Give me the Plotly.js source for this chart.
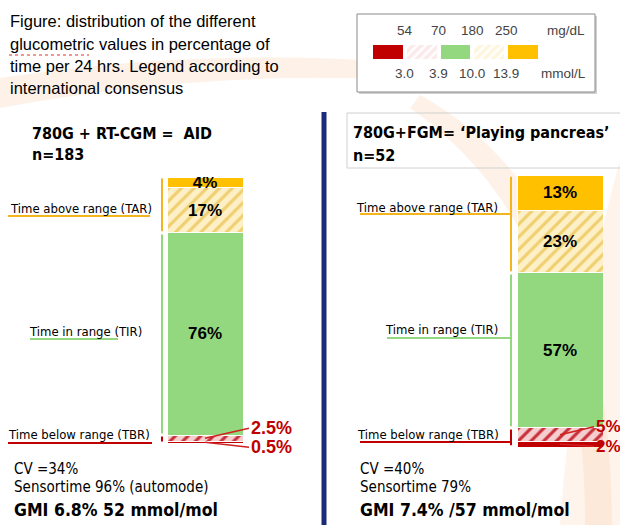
<!DOCTYPE html>
<html>
<head>
<meta charset="utf-8">
<script src="https://cdn.plot.ly/plotly-3.0.1.min.js"></script>
<style>html,body{margin:0;padding:0;background:#fff;}#chart{width:620px;height:525px;}</style>
</head>
<body>
<div id="chart"></div>
<script>
// ---------------- data ----------------
const categories = ["TBR <54", "TBR 54-70", "TIR 70-180", "TAR 180-250", "TAR >250"];
const aidValues = [0.5, 2.5, 76, 17, 4];        // 780G + RT-CGM (n=183)
const fgmValues = [2, 5, 57, 23, 13];           // 780G + FGM (n=52)
const groupNames = ["780G + RT-CGM", "780G+FGM"];
const mgdlTicks = ["54", "70", "180", "250"];
const mmolTicks = ["3.0", "3.9", "10.0", "13.9"];
const legendPatch = [1, 1, 1, 1, 1];

// ---------------- styles ----------------
const segColor = ["#c00000", "#f5cfcf", "#93d87f", "#fdf0c6", "#ffc000"];
const segShape = ["", "/", "", "/", ""];
const segFg = ["#c00000", "#c8303a", "#93d87f", "#f0cf70", "#ffc000"];
const keyBg = ["#c00000", "#fbeaea", "#93d87f", "#fdf5dc", "#ffc000"];
const keyFg = ["#c00000", "#c8102e", "#93d87f", "#ebb830", "#ffc000"];
const W = 620, H = 525;
const px = x => x / W;
const py = y => 1 - y / H;

const traces = [];
const sum = a => a.reduce((s, v) => s + v, 0);
function cum(arr, i) { return sum(arr.slice(0, i)); }

[[aidValues, 'x', 'y', groupNames[0]], [fgmValues, 'x2', 'y2', groupNames[1]]].forEach(([vals, xa, ya, g]) => {
  categories.forEach((c, i) => {
    traces.push({
      type: 'bar', name: c, x: [g], y: [vals[i]], xaxis: xa, yaxis: ya,
      marker: {
        color: segColor[i],
        pattern: {shape: segShape[i], fgcolor: segFg[i], bgcolor: segColor[i], size: 9, solidity: 0.35},
        line: {color: '#ffffff', width: 1}
      },
      text: [i >= 2 ? vals[i] + '%' : ''],
      textposition: 'inside', insidetextanchor: 'middle', textangle: 0, constraintext: 'none',
      textfont: {family: 'Liberation Sans, Arial, sans-serif', size: 17, color: '#000', weight: 'bold'},
      hoverinfo: 'skip', showlegend: false
    });
  });
});

// colour key as a tiny bar strip
traces.push({
  type: 'bar', x: categories, y: legendPatch, xaxis: 'x3', yaxis: 'y3', width: 0.88,
  marker: {
    color: keyBg,
    pattern: {shape: segShape, fgcolor: keyFg, bgcolor: keyBg, size: 6, solidity: 0.6},
    line: {color: 'rgba(0,0,0,0)', width: 0}
  },
  hoverinfo: 'skip', showlegend: false
});

const hidden = {visible: false, fixedrange: true};
const shapes = [];
const annotations = [];

// background swooshes
const peach = 'rgba(250,205,170,0.28)';
shapes.push({type: 'path', xref: 'paper', yref: 'paper', layer: 'below', line: {width: 0}, fillcolor: peach,
  path: `M ${px(0)},${py(78)} Q ${px(250)},${py(40)} ${px(480)},${py(72)} L ${px(480)},${py(86)} Q ${px(250)},${py(62)} ${px(0)},${py(108)} Z`});
shapes.push({type: 'path', xref: 'paper', yref: 'paper', layer: 'below', line: {width: 0}, fillcolor: peach,
  path: `M ${px(420)},${py(95)} Q ${px(610)},${py(200)} ${px(612)},${py(525)} L ${px(585)},${py(525)} Q ${px(585)},${py(230)} ${px(410)},${py(108)} Z`});
shapes.push({type: 'path', xref: 'paper', yref: 'paper', layer: 'below', line: {width: 0}, fillcolor: 'rgba(250,205,170,0.22)',
  path: `M ${px(620)},${py(160)} Q ${px(575)},${py(320)} ${px(560)},${py(525)} L ${px(620)},${py(525)} Z`});

// legend box (with soft shadow)
shapes.push({type: 'rect', xref: 'paper', yref: 'paper', x0: px(359), x1: px(597), y0: py(94), y1: py(16),
  line: {width: 0}, fillcolor: 'rgba(0,0,0,0.18)', layer: 'below'});
shapes.push({type: 'rect', xref: 'paper', yref: 'paper', x0: px(357), x1: px(595), y0: py(92), y1: py(14),
  line: {color: '#8a8a8a', width: 1}, fillcolor: '#ffffff', layer: 'below'});
// right title box
shapes.push({type: 'rect', xref: 'paper', yref: 'paper', x0: px(347), x1: px(640), y0: py(168), y1: py(113),
  line: {color: '#d0d0d0', width: 1}, fillcolor: 'rgba(255,255,255,0)'});
// blue divider
shapes.push({type: 'line', xref: 'paper', yref: 'paper', x0: px(324), x1: px(324), y0: py(112), y1: py(525),
  line: {color: '#1b2a7b', width: 5}});
// spell-check squiggle
shapes.push({type: 'line', xref: 'paper', yref: 'paper', x0: px(9), x1: px(89), y0: py(55), y1: py(55),
  line: {color: '#e03030', width: 1.2, dash: 'dot'}});

// brackets & underlines per panel
const bracket = [
  {vals: aidValues, ya: 'y', xb: 162, under: [[8, 150, 216], [30, 118, 339], [8, 152, 443]]},
  {vals: fgmValues, ya: 'y2', xb: 511, under: [[360, 511, 214], [387, 511, 338], [360, 511, 442]]}
];
const brColors = ['#f3b51b', '#93d87f', '#c00000'];
bracket.forEach(b => {
  const tbr = b.vals[0] + b.vals[1];
  const tir = b.vals[2];
  const spans = [[tbr + tir, 100], [tbr, tbr + tir], [0, tbr]];
  [0, 1, 2].forEach(k => {
    shapes.push({type: 'line', xref: 'paper', yref: b.ya, x0: px(b.xb), x1: px(b.xb),
      y0: spans[k][0] + 0.6, y1: spans[k][1] - 0.6, line: {color: brColors[k], width: 2}});
    const u = b.under[k];
    shapes.push({type: 'line', xref: 'paper', yref: 'paper', x0: px(u[0]), x1: px(u[1]), y0: py(u[2]), y1: py(u[2]),
      line: {color: brColors[k], width: 2}});
  });
});

function txt(text, x, y, size, opts) {
  annotations.push(Object.assign({text, xref: 'paper', yref: 'paper', x: px(x), y: py(y), xanchor: 'left', yanchor: 'middle',
    showarrow: false, font: {family: 'Liberation Sans, Arial, sans-serif', size, color: '#000'}}, opts || {}));
}
// figure caption
txt('Figure: distribution of the different', 8, 21, 16.5);
txt('glucometric values in percentage of', 8, 44, 16.5);
txt('time per 24 hrs. Legend according to', 8, 66, 16.5);
txt('international consensus', 8, 88, 16.5);

// colour key labels
const keyFont = {family: 'Liberation Sans, Arial, sans-serif', size: 13.5, color: '#444'};
mgdlTicks.forEach((t, i) => annotations.push({text: t, xref: 'x3', yref: 'paper', x: i + 0.5, y: py(31), showarrow: false, font: keyFont, yanchor: 'middle'}));
mmolTicks.forEach((t, i) => annotations.push({text: t, xref: 'x3', yref: 'paper', x: i + 0.5, y: py(73), showarrow: false, font: keyFont, yanchor: 'middle'}));
txt('mg/dL', 545, 31, 13.5, {font: keyFont});
txt('mmol/L', 539, 73, 13.5, {font: keyFont});

// panel headers
const head = {family: 'DejaVu Sans Condensed, DejaVu Sans, sans-serif', size: 16, color: '#000', weight: 'bold'};
txt('780G + RT-CGM =\u00a0 AID', 30, 133, 16, {font: head});
txt('n=183', 30, 154, 16, {font: head});
txt('780G+FGM= \u2018Playing pancreas\u2019', 351, 132, 16, {font: head});
txt('n=52', 351, 155, 16, {font: head});

// range labels
const lab = {family: 'DejaVu Sans Condensed, DejaVu Sans, sans-serif', size: 13, color: '#000'};
txt('Time above range (TAR)', 8, 208, 13, {font: lab});
txt('Time in range (TIR)', 27, 331, 13, {font: lab});
txt('Time below range (TBR)', 6, 434, 13, {font: lab});
txt('Time above range (TAR)', 354, 207, 13, {font: lab});
txt('Time in range (TIR)', 383, 329, 13, {font: lab});
txt('Time below range (TBR)', 355, 434, 13, {font: lab});

// TBR value call-outs
const red = {family: 'Liberation Sans, Arial, sans-serif', size: 18, color: '#c00000', weight: 'bold'};
const redS = {family: 'Liberation Sans, Arial, sans-serif', size: 17, color: '#c00000', weight: 'bold'};
function callout(vals, i, xa, ya, g, ax, ay, f) {
  annotations.push({text: vals[i] + '%', xref: xa, yref: ya, x: g, y: cum(vals, i) + vals[i] / 2,
    ax, ay, xanchor: 'left', yanchor: 'middle', showarrow: true, arrowhead: 0, arrowwidth: 1.6, arrowcolor: '#d02020',
    font: f, standoff: 0});
}
callout(aidValues, 1, 'x', 'y', groupNames[0], 44, -10, red);
callout(aidValues, 0, 'x', 'y', groupNames[0], 44, 5, red);
callout(fgmValues, 1, 'x2', 'y2', groupNames[1], 34, -8, redS);
callout(fgmValues, 0, 'x2', 'y2', groupNames[1], 34, 2, redS);

// bottom stats
const st = {family: 'DejaVu Sans Condensed, DejaVu Sans, sans-serif', size: 15, color: '#000'};
const stB = {family: 'DejaVu Sans Condensed, DejaVu Sans, sans-serif', size: 17.5, color: '#000', weight: 'bold'};
txt('CV =34%', 12, 469, 15, {font: st});
txt('Sensortime 96% (automode)', 12, 487, 15, {font: st});
txt('GMI 6.8% 52 mmol/mol', 12, 510, 17.5, {font: stB});
txt('CV =40%', 358, 469, 15, {font: st});
txt('Sensortime 79%', 358, 487, 15, {font: st});
txt('GMI 7.4% /57 mmol/mol', 358, 510, 17.5, {font: stB});

const layout = {
  width: W, height: H, margin: {l: 0, r: 0, t: 0, b: 0},
  paper_bgcolor: '#ffffff', plot_bgcolor: 'rgba(0,0,0,0)',
  barmode: 'stack', bargap: 0, showlegend: false,
  xaxis: Object.assign({type: 'category', domain: [px(167), px(243)], range: [-0.5, 0.5], anchor: 'y'}, hidden),
  yaxis: Object.assign({domain: [py(443), py(177)], range: [0, 100], anchor: 'x'}, hidden),
  xaxis2: Object.assign({type: 'category', domain: [px(517), px(603)], range: [-0.5, 0.5], anchor: 'y2'}, hidden),
  yaxis2: Object.assign({domain: [py(447), py(175)], range: [0, 100], anchor: 'x2'}, hidden),
  xaxis3: Object.assign({type: 'category', domain: [px(371), px(540)], range: [-0.5, 4.5], anchor: 'y3'}, hidden),
  yaxis3: Object.assign({domain: [py(59), py(45)], range: [0, 1], anchor: 'x3'}, hidden),
  shapes, annotations
};
Plotly.newPlot('chart', traces, layout, {staticPlot: true, displayModeBar: false});
</script>
</body>
</html>
